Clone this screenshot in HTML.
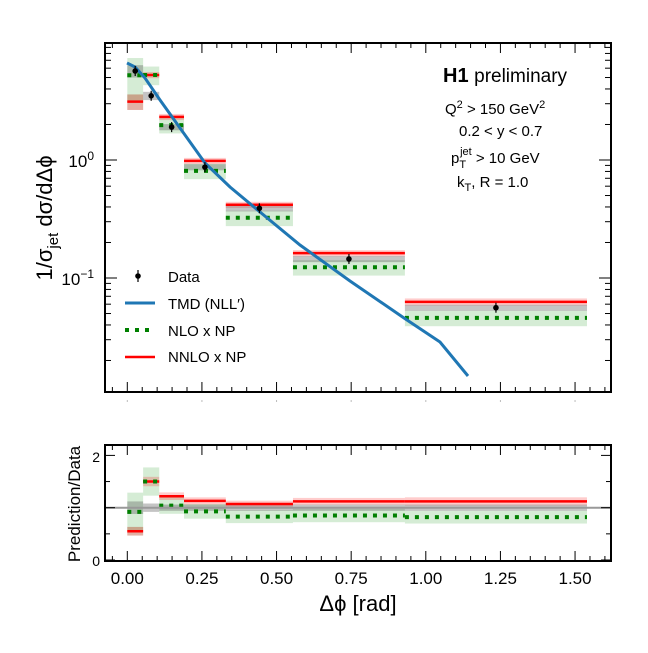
<!DOCTYPE html>
<html><head><meta charset="utf-8"><style>
body{margin:0;background:#fff}
svg text{font-family:"Liberation Sans",sans-serif}
</style></head><body>
<svg id="s" width="648" height="648" xmlns="http://www.w3.org/2000/svg">
<rect width="648" height="648" fill="#fff"/>
<g id="g"></g>
<text x="443" y="82" font-size="20" font-weight="bold">H1 <tspan font-weight="normal" font-size="19">preliminary</tspan></text>
<text x="445" y="114" font-size="15">Q<tspan dy="-6" font-size="11">2</tspan><tspan dy="6"> &gt; 150 GeV</tspan><tspan dy="-6" font-size="11">2</tspan></text>
<text x="459" y="136" font-size="15">0.2 &lt; y &lt; 0.7</text>
<text x="451" y="163" font-size="15">p<tspan dy="5" font-size="11">T</tspan><tspan dx="-6" dy="-13" font-size="11">jet</tspan><tspan dy="8"> &gt; 10 GeV</tspan></text>
<text x="457" y="187" font-size="15">k<tspan dy="4" font-size="11">T</tspan><tspan dy="-4">, R = 1.0</tspan></text>
<text transform="translate(52,218) rotate(-90)" text-anchor="middle" font-size="22">1/σ<tspan dy="6" font-size="15">jet</tspan><tspan dy="-6"> dσ/dΔϕ</tspan></text>
<text transform="translate(80,504) rotate(-90)" text-anchor="middle" font-size="17">Prediction/Data</text>
<text x="358" y="611" text-anchor="middle" font-size="22">Δϕ  [rad]</text>
<text x="94" y="167" text-anchor="end" font-size="17">10<tspan dy="-7" font-size="12">0</tspan></text>
<text x="94" y="285" text-anchor="end" font-size="17">10<tspan dy="-7" font-size="12">−1</tspan></text>
<text x="100" y="462" text-anchor="end" font-size="14">2</text>
<text x="100" y="566" text-anchor="end" font-size="14">0</text>
<text x="168" y="282" font-size="15">Data</text>
<text x="168" y="309" font-size="15">TMD (NLL′)</text>
<text x="168" y="336" font-size="15">NLO x NP</text>
<text x="168" y="362" font-size="15">NNLO x NP</text>
</svg>
<script>
const g=document.getElementById('g');let h='';
const X=v=>127.3+298.5*v, Y=v=>160-118*Math.log10(v), R=r=>560-52.3*r;
const L=105,Rt=611,T1=43,B1=392,T2=445,B2=561;
const e=[0,0.053,0.107,0.19,0.33,0.555,0.93,1.54];
const d=[5.68,3.5,1.9,0.87,0.39,0.145,0.056];
const nn=[0.55,1.5,1.22,1.13,1.07,1.12,1.12];
const nl=[0.92,1.5,1.04,0.93,0.83,0.85,0.82];
const ge=[0.12,0.08,0.06,0.06,0.06,0.06,0.06];
const gn=[0.4,0.18,0.15,0.15,0.15,0.15,0.15];
const rn=[0.15,0.06,0.06,0.06,0.06,0.06,0.07];
function rect(x1,x2,y1,y2,c,o){h+=`<rect x="${x1}" y="${Math.min(y1,y2)}" width="${x2-x1}" height="${Math.abs(y2-y1)}" fill="${c}" fill-opacity="${o}"/>`;}
function line(x1,y1,x2,y2,c,w,da){h+=`<line x1="${x1}" y1="${y1}" x2="${x2}" y2="${y2}" stroke="${c}" stroke-width="${w}" ${da?'stroke-dasharray="'+da+'"':''}/>`;}
for(let i=0;i<7;i++){
 const a=X(e[i]),b=X(e[i+1]);
 rect(a,b,Y(d[i]*nl[i]*(1-gn[i])),Y(d[i]*nl[i]*(1+gn[i])),'#2ca02c',0.2);
 rect(a,b,Y(d[i]*nn[i]*(1-rn[i])),Y(d[i]*nn[i]*(1+rn[i])),'#ff0000',0.2);
 rect(a,b,Y(d[i]*(1-ge[i])),Y(d[i]*(1+ge[i])),'#555',0.35);
 if(i==0)rect(a,b,Y(d[i]*nn[i]*0.85),Y(d[i]*nn[i]*1.15),'#8b5a2b',0.25);
 line(a,Y(d[i]*nn[i]),b,Y(d[i]*nn[i]),'#ff0000',2.5);
 line(a,Y(d[i]*nl[i]),b,Y(d[i]*nl[i]),'#008000',4,'4,6');
 rect(a,b,R(nl[i]*(1-gn[i])),R(nl[i]*(1+gn[i])),'#2ca02c',0.2);
 rect(a,b,R(nn[i]*(1-rn[i])),R(nn[i]*(1+rn[i])),'#ff0000',0.2);
 rect(a,b,R(1-ge[i]),R(1+ge[i]),'#555',0.35);
 if(i==0)rect(a,b,R(nn[i]*0.85),R(nn[i]*1.15),'#8b5a2b',0.25);
 line(a,R(nn[i]),b,R(nn[i]),'#ff0000',2.5);
 line(a,R(nl[i]),b,R(nl[i]),'#008000',4,'4,6');
}
line(L,R(1),Rt,R(1),'#999',2);
h+=`<polyline fill="none" stroke="#1f77b4" stroke-width="3" points="127,63 135,67 145,78 160,100 185,135 205,163 230,187 260,212 300,245 350,281 404,318 440,342 468,376"/>`;
for(let i=0;i<7;i++){const x=X((e[i]+e[i+1])/2),y=Y(d[i]);line(x,y-5,x,y+5,'#000',1.2);h+=`<circle cx="${x}" cy="${y}" r="2.8" fill="#000"/>`;}
h+=`<rect x="${L}" y="${T1}" width="${Rt-L}" height="${B1-T1}" fill="none" stroke="#000" stroke-width="2"/>`;
h+=`<rect x="${L}" y="${T2}" width="${Rt-L}" height="${B2-T2}" fill="none" stroke="#000" stroke-width="2"/>`;
for(let k=-1;k<=32;k++){const v=k*0.05,x=X(v);if(x<L||x>Rt)continue;const m=k%5==0?10:5;
 [[T1,1],[B1,-1],[T2,1],[B2,-1]].forEach(([y,s])=>line(x,y,x,y+s*m,'#000',1));
 if(k%5==0){line(x,B1+8,x,B1+10,'#bbb',1);h+=`<text x="${x}" y="584" text-anchor="middle" font-size="17">${v.toFixed(2)}</text>`;}}
for(let p=-2;p<=1;p++)for(let m=1;m<10;m++){const y=Y(m*Math.pow(10,p));if(y<T1||y>B1)continue;const l=m==1?12:6;line(L,y,L+l,y,'#000',1);line(Rt,y,Rt-l,y,'#000',1);}
for(let r=0;r<=2.2;r+=0.5){const y=R(r);if(y<T2||y>B2)continue;const l=(r%1==0)?10:5;line(L,y,L+l,y,'#000',1);line(Rt,y,Rt-l,y,'#000',1);}
line(138,270,138,282,'#000',1.2);h+=`<circle cx="138" cy="276" r="2.8" fill="#000"/>`;
line(125,303,155,303,'#1f77b4',3);
line(125,330,155,330,'#008000',4,'4,6');
line(125,357,155,357,'#ff0000',2.5);
g.innerHTML=h;
</script>
</body></html>
